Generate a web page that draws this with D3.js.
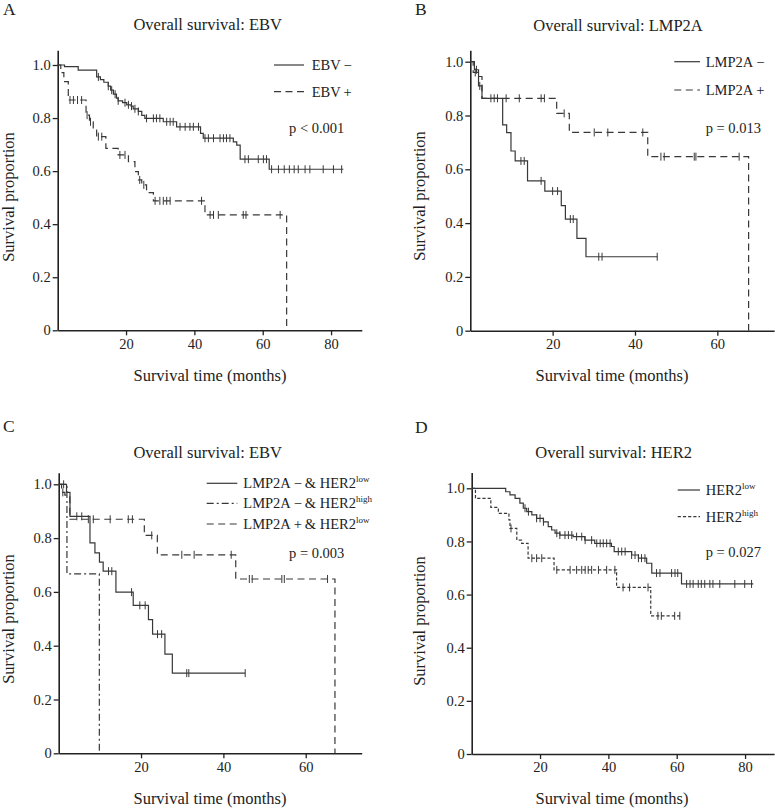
<!DOCTYPE html>
<html><head><meta charset="utf-8">
<script src="https://cdn.jsdelivr.net/npm/d3@7"></script>
<style>
body{margin:0;background:#fff}
svg{display:block}
text{font-family:"Liberation Serif","Times New Roman",serif;fill:#222}
</style>
</head><body>
<svg id="chart" width="775" height="808"></svg>
<script>
// ---------------- DATA ----------------
// Each step: [time (months), survival proportion after the event]
const yTicks = [0, 0.2, 0.4, 0.6, 0.8, 1.0];
const xTicksAD = [20, 40, 60, 80];
const xTicksBC = [20, 40, 60];

// Panel A: EBV
const aEbvNegSteps = [[2,0.994],[6,0.981],[11.4,0.955],[12.5,0.945],[13.5,0.935],[14.8,0.92],[15.5,0.905],[16.3,0.89],[17.2,0.875],[17.7,0.865],[19,0.858],[20.2,0.85],[21.5,0.845],[22.1,0.835],[23.6,0.825],[24.6,0.81],[25.5,0.799],[30.9,0.786],[34.8,0.767],[41.8,0.742],[42.6,0.724],[51.4,0.71],[52.4,0.698],[53.4,0.645],[61.9,0.607]];
const aEbvNegEnd = 83.6;
const aEbvNegCensor = [11.9,14.8,15.8,16.8,17.7,19.7,20.7,21.6,22.6,23.6,26,28,28.9,29.9,31.9,32.9,33.8,35.8,37.3,38.7,39.7,41.2,43.1,44.1,45.6,47.5,48.5,49.4,50.4,54.8,55.8,58.7,60.2,61.1,62.6,64.6,66.3,67.8,69.2,70.4,72.4,73.8,77.7,80.7,83.1];
const aEbvPosSteps = [[0.9,0.971],[1.8,0.937],[3.1,0.868],[8.3,0.811],[9.3,0.786],[10.4,0.755],[11.4,0.73],[14.1,0.686],[17.7,0.661],[20.7,0.636],[22.6,0.598],[23.6,0.567],[24.6,0.548],[26.0,0.519],[28.0,0.488],[43.1,0.435],[67.0,0]];
const aEbvPosEnd = 67.0;
const aEbvPosCensor = [3.6,4.6,5.8,7.0,8.6,9.6,11.9,12.9,18.2,19.7,24.0,25.2,28.5,29.9,30.9,31.9,32.9,42.1,44.6,45.6,47.0,54.3,55.1,65.1];

// Panel B: LMP2A
const bNegSteps = [[1.0,0.97],[2.0,0.91],[2.84,0.864],[7.86,0.765],[8.83,0.736],[9.88,0.668],[10.9,0.631],[13.9,0.557],[18.1,0.519],[22.1,0.465],[23.1,0.415],[25.9,0.343],[28.1,0.275]];
const bNegEnd = 45.5;
const bNegCensor = [1.5,2.3,12.3,13.1,17.2,20.0,21.2,24.3,25.0,31.2,32.0,45.4];
const bPosSteps = [[0.7,0.96],[1.8,0.945],[2.84,0.864],[20.98,0.808],[24.05,0.737],[43.1,0.647],[67.6,0]];
const bPosEnd = 67.6;
const bPosCensor = [1.2,5.0,5.8,6.6,8.7,11.9,17.2,18.0,22.8,30.1,33.4,41.9,46.3,47.1,54.4,54.8,65.3];

// Panel C: LMP2A & HER2 combinations
const cNegLowSteps = [[1.9,0.97],[2.74,0.881],[7.6,0.782],[8.8,0.745],[9.9,0.711],[10.8,0.677],[13.9,0.599],[18.1,0.55],[21.8,0.497],[22.8,0.443],[25.8,0.369],[27.6,0.298]];
const cNegLowEnd = 45.3;
const cNegLowCensor = [1.2,4.4,5.6,12.1,12.9,17.7,19.7,21.0,24.0,25.0,31.1,31.6,45.3];
const cNegHighSteps = [[2.0,0.667],[9.87,0]];
const cNegHighEnd = 9.87;
const cNegHighCensor = [];
const cPosLowSteps = [[0.7,0.97],[1.5,0.96],[2.7,0.87],[20.8,0.81],[23.96,0.738],[43.0,0.648],[67.1,0]];
const cPosLowEnd = 67.1;
const cPosLowCensor = [1.0,7.2,8.4,12.5,16.9,17.9,22.6,29.9,32.9,41.9,46.3,47.0,54.2,54.8,65.3];

// Panel D: HER2
const dLowSteps = [[9.95,0.987],[11.2,0.975],[12.7,0.962],[14.1,0.944],[15.1,0.925],[16.1,0.912],[17.6,0.9],[19.0,0.887],[21.0,0.874],[22.4,0.856],[23.4,0.843],[24.4,0.831],[25.8,0.824],[29.7,0.818],[33.1,0.805],[36.0,0.793],[40.9,0.781],[41.7,0.762],[46.8,0.749],[48.8,0.737],[51.2,0.718],[52.7,0.681],[61.4,0.64]];
const dLowEnd = 82.4;
const dLowCensor = [15.6,16.6,19.0,20.0,21.0,24.9,25.8,27.3,28.3,29.3,30.7,32.2,33.2,35.1,36.6,37.6,38.5,39.5,40.5,42.9,43.9,44.9,46.8,47.8,48.8,49.7,50.7,54.1,55.1,58.5,59.5,60.3,62.9,63.9,64.8,66.3,67.2,68.2,69.7,70.6,72.6,77.0,79.9,81.9];
const dHighSteps = [[1.1,0.962],[5.6,0.928],[7.8,0.906],[10.9,0.881],[11.2,0.849],[13.2,0.805],[14.6,0.793],[16.5,0.737],[24.1,0.693],[42.4,0.627],[52.4,0.52]];
const dHighEnd = 61.2;
const dHighCensor = [11.5,17.6,19.0,20.5,24.9,28.8,30.7,32.2,33.2,34.1,35.1,37.1,39.5,41.9,44.3,46.2,51.6,54.5,55.5,59.4,60.9];

const panelLetters = ["A","B","C","D"];
const panelTitles = ["Overall survival: EBV","Overall survival: LMP2A","Overall survival: EBV","Overall survival: HER2"];
const pValues = ["p < 0.001","p = 0.013","p = 0.003","p = 0.027"];
const xTitle = "Survival time (months)";
const yTitle = "Survival proportion";
// legend labels: [main, superscript]
const legendA = [["EBV\u2009\u2212",""],["EBV\u2009+",""]];
const legendB = [["LMP2A\u2009\u2212",""],["LMP2A\u2009+",""]];
const legendC = [["LMP2A\u2009\u2212\u2009& HER2","low"],["LMP2A\u2009\u2212\u2009& HER2","high"],["LMP2A\u2009+\u2009& HER2","low"]];
const legendD = [["HER2","low"],["HER2","high"]];

// ---------------- LAYOUT ----------------
const SOLID = null, DASH = "7,4.5", DASHDOT = "7,3,2,3", SHORTDASH = "3.2,2";
const LINE = "#383838";

const panels = [
  {letter:0, lx:3, ly:15, title:0, tx:207.7, ty:30,
   left:57.7, xMax:89, xUnit:3.417, bottom:330.3, yUnit:265.3, yMax:1.056, xTicks:xTicksAD,
   xtx:210, xty:381, ytx:14, yty:197,
   series:[{steps:aEbvNegSteps,end:aEbvNegEnd,censor:aEbvNegCensor,dash:SOLID},
           {steps:aEbvPosSteps,end:aEbvPosEnd,censor:aEbvPosCensor,dash:DASH}],
   legend:legendA, legX1:274, legX2:304, legTX:311.7, legY:[65,91.7], pX:289, pY:127.7},
  {letter:1, lx:415, ly:15, title:1, tx:618, ty:31,
   left:470.3, xMax:73.8, xUnit:4.117, bottom:330.7, yUnit:269, yMax:1.043, xTicks:xTicksBC,
   xtx:612, xty:381, ytx:425, yty:196,
   series:[{steps:bNegSteps,end:bNegEnd,censor:bNegCensor,dash:SOLID},
           {steps:bPosSteps,end:bPosEnd,censor:bPosCensor,dash:DASH}],
   legend:legendB, legX1:674.3, legX2:700, legTX:705.7, legY:[61.7,90], pX:705.7, pY:128},
  {letter:2, lx:3, ly:432, title:2, tx:207.7, ty:458,
   left:58.7, xMax:73.6, xUnit:4.117, bottom:753.3, yUnit:269, yMax:1.043, xTicks:xTicksBC,
   xtx:210, xty:804, ytx:14, yty:619,
   series:[{steps:cNegLowSteps,end:cNegLowEnd,censor:cNegLowCensor,dash:SOLID},
           {steps:cNegHighSteps,end:cNegHighEnd,censor:cNegHighCensor,dash:DASHDOT},
           {steps:cPosLowSteps,end:cPosLowEnd,censor:cPosLowCensor,dash:DASH}],
   legend:legendC, legX1:206.7, legX2:237.3, legTX:243.3, legY:[483.3,503.3,524], pX:289, pY:552.7},
  {letter:3, lx:415, ly:433, title:3, tx:613.6, ty:458,
   left:471.7, xMax:88.5, xUnit:3.417, bottom:754, yUnit:265.7, yMax:1.059, xTicks:xTicksAD,
   xtx:612, xty:804, ytx:425, yty:621,
   series:[{steps:dLowSteps,end:dLowEnd,censor:dLowCensor,dash:SOLID},
           {steps:dHighSteps,end:dHighEnd,censor:dHighCensor,dash:SHORTDASH}],
   legend:legendD, legX1:677.7, legX2:700, legTX:705.7, legY:[490,516.7], pX:705.7, pY:551.7}
];

const svg = d3.select("#chart");

function survAt(steps, t){
  let s = 1;
  for (const [tt, ss] of steps){ if (tt <= t) s = ss; else break; }
  return s;
}
function stepPoints(steps, end){
  const pts = [[0,1]]; let s = 1;
  for (const [t, ns] of steps){ pts.push([t, s]); pts.push([t, ns]); s = ns; }
  const lastT = steps.length ? steps[steps.length-1][0] : 0;
  if (end > lastT) pts.push([end, s]);
  return pts;
}

panels.forEach(p => {
  const g = svg.append("g");
  const x = d3.scaleLinear().domain([0, p.xMax]).range([p.left, p.left + p.xMax * p.xUnit]);
  const y = d3.scaleLinear().domain([0, p.yMax]).range([p.bottom, p.bottom - p.yMax * p.yUnit]);

  // axes
  const xa = g.append("g").attr("transform", `translate(0,${p.bottom})`)
    .call(d3.axisBottom(x).tickValues(p.xTicks).tickSize(5).tickSizeOuter(0).tickPadding(3).tickFormat(d3.format("d")));
  const ya = g.append("g").attr("transform", `translate(${p.left},0)`)
    .call(d3.axisLeft(y).tickValues(yTicks).tickSize(5).tickSizeOuter(0).tickPadding(2)
      .tickFormat(d => d === 0 ? "0" : d.toFixed(1)));
  [xa, ya].forEach(a => {
    a.select(".domain").attr("stroke", "#222").attr("stroke-width", 1.6);
    a.selectAll(".tick line").attr("stroke", "#222").attr("stroke-width", 1.3);
    a.selectAll(".tick text").attr("font-size", 14.5).attr("fill", "#222")
      .attr("font-family", '"Liberation Serif","Times New Roman",serif');
  });

  // curves
  const line = d3.line().x(d => x(d[0])).y(d => y(d[1]));
  p.series.forEach(s => {
    g.append("path").datum(stepPoints(s.steps, s.end)).attr("d", line)
      .attr("fill", "none").attr("stroke", LINE).attr("stroke-width", 1.2)
      .attr("stroke-dasharray", s.dash);
    g.selectAll(null).data(s.censor).enter().append("line")
      .attr("x1", d => x(d)).attr("x2", d => x(d))
      .attr("y1", d => y(survAt(s.steps, d)) - 4)
      .attr("y2", d => y(survAt(s.steps, d)) + 4)
      .attr("stroke", LINE).attr("stroke-width", 1);
  });

  // texts
  g.append("text").attr("x", p.lx).attr("y", p.ly).attr("font-size", 17.5).text(panelLetters[p.letter]);
  g.append("text").attr("x", p.tx).attr("y", p.ty).attr("text-anchor", "middle").attr("font-size", 16.5).text(panelTitles[p.title]);
  g.append("text").attr("x", p.xtx).attr("y", p.xty).attr("text-anchor", "middle").attr("font-size", 16.5).text(xTitle);
  g.append("text").attr("transform", `translate(${p.ytx},${p.yty}) rotate(-90)`)
    .attr("text-anchor", "middle").attr("font-size", 16.5).text(yTitle);

  // legend
  p.legend.forEach((lab, i) => {
    const ly = p.legY[i];
    g.append("line").attr("x1", p.legX1).attr("x2", p.legX2).attr("y1", ly).attr("y2", ly)
      .attr("stroke", LINE).attr("stroke-width", 1.2).attr("stroke-dasharray", p.series[i].dash);
    const t = g.append("text").attr("x", p.legTX).attr("y", ly + 5).attr("font-size", 14.5);
    t.append("tspan").text(lab[0]);
    if (lab[1]) t.append("tspan").attr("font-size", 9).attr("dy", -6).text(lab[1]);
  });
  g.append("text").attr("x", p.pX).attr("y", p.pY + 5).attr("font-size", 14.5).text(pValues[p.letter]);
});
</script>
</body></html>
